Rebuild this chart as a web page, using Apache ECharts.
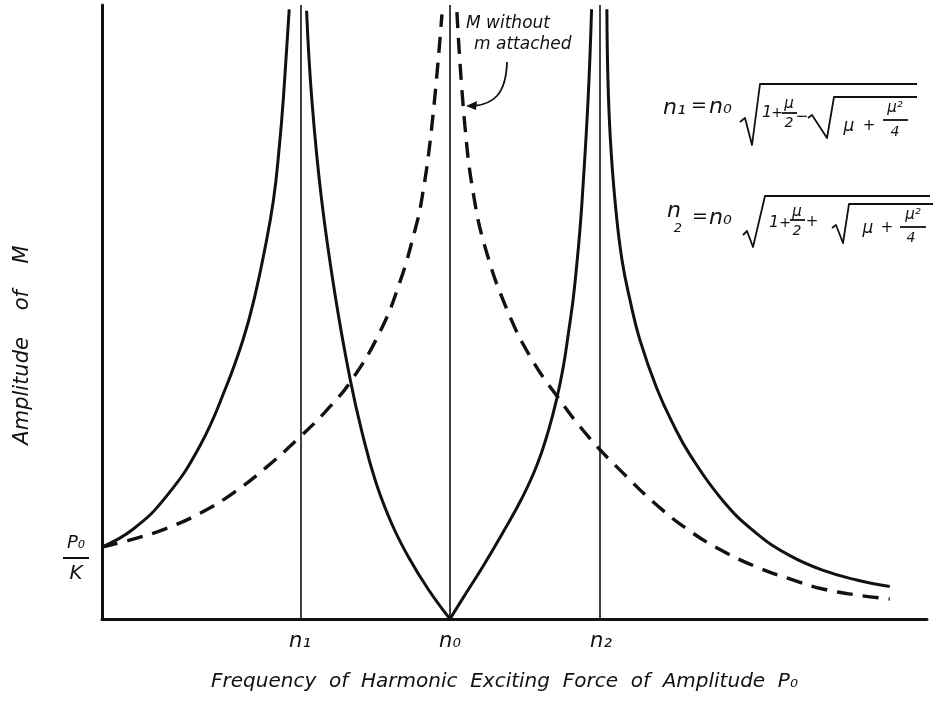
<!DOCTYPE html>
<html>
<head>
<meta charset="utf-8">
<script src="https://cdn.jsdelivr.net/npm/echarts@6/dist/echarts.min.js"></script>
<style>
  html, body { margin: 0; padding: 0; background: #fff; }
  #chart { width: 934px; height: 704px; }
</style>
</head>
<body>
<div id="chart"></div>
<script>
// Frequency is measured in units of n0, amplitude in units of the static deflection P0/K.
const freqTicks = [0.569, 1.0, 1.434];
const freqTickLabels = ['n\u2081', 'n\u2080', 'n\u2082'];
const ampTicks = [1];

// Amplitude of M with the absorber m attached
const solidBelowN1 = [[0, 1], [0.090, 1.25], [0.186, 1.71], [0.282, 2.41], [0.358, 3.24],
  [0.406, 3.89], [0.437, 4.44], [0.468, 5.14], [0.493, 5.83], [0.509, 6.53], [0.521, 7.22],
  [0.538, 8.47]];
const solidN1toN0 = [[0.588, 8.45], [0.603, 7.22], [0.631, 5.83], [0.672, 4.44], [0.714, 3.31],
  [0.747, 2.60], [0.787, 1.90], [0.833, 1.32], [0.882, 0.85], [0.937, 0.417], [1.0, 0]];
const solidN0toN2 = [[1.0, 0], [1.036, 0.28], [1.096, 0.74], [1.153, 1.21], [1.206, 1.67],
  [1.249, 2.125], [1.282, 2.60], [1.307, 3.06], [1.326, 3.51], [1.341, 3.99], [1.354, 4.44],
  [1.364, 4.90], [1.373, 5.375], [1.380, 5.83], [1.397, 7.22], [1.407, 8.47]];
const solidAboveN2 = [[1.451, 8.47], [1.454, 7.50], [1.461, 6.67], [1.474, 5.83], [1.494, 5.0],
  [1.520, 4.375], [1.546, 3.875], [1.594, 3.21], [1.641, 2.71], [1.690, 2.28], [1.785, 1.64],
  [1.881, 1.19], [1.977, 0.88], [2.073, 0.675], [2.169, 0.542], [2.264, 0.451]];

// Amplitude of M alone, without m attached
const dashedBelowN0 = [[0, 1], [0.090, 1.11], [0.186, 1.26], [0.282, 1.47], [0.377, 1.75],
  [0.473, 2.11], [0.569, 2.53], [0.641, 2.875], [0.716, 3.31], [0.799, 3.99], [0.856, 4.68],
  [0.898, 5.375], [0.919, 5.83], [0.948, 6.85], [0.977, 8.40]];
const dashedAboveN0 = [[1.020, 8.43], [1.043, 6.85], [1.070, 5.83], [1.105, 5.10], [1.163, 4.31],
  [1.230, 3.65], [1.307, 3.10], [1.402, 2.51], [1.497, 2.03], [1.595, 1.58], [1.690, 1.22],
  [1.784, 0.944], [1.882, 0.722], [1.977, 0.556], [2.072, 0.417], [2.170, 0.333], [2.264, 0.278]];

const INK = '#111';
const HAND = 'DejaVu Sans';

function curve(data, dashed) {
  return {
    type: 'line',
    data: data,
    smooth: 0.45,
    symbol: 'none',
    silent: true,
    lineStyle: dashed
      ? { color: INK, width: 3.4, type: [16, 10], cap: 'butt' }
      : { color: INK, width: 3 }
  };
}

function txt(text, x, y, size, align) {
  return {
    type: 'text', x: x, y: y, silent: true,
    style: {
      text: text, fill: INK,
      font: 'italic ' + size + 'px "' + HAND + '"',
      textAlign: align || 'left', align: align || 'left',
      textVerticalAlign: 'middle', verticalAlign: 'middle'
    }
  };
}
function poly(points) {
  return { type: 'polyline', silent: true, shape: { points: points },
           style: { stroke: INK, lineWidth: 1.8, fill: null, lineJoin: 'round' } };
}
function bar(x1, x2, y) {
  return { type: 'line', silent: true, shape: { x1: x1, y1: y, x2: x2, y2: y },
           style: { stroke: INK, lineWidth: 1.8 } };
}

const formulaGraphics = [
  // n1 = n0 sqrt(1 + mu/2 - sqrt(mu + mu^2/4))
  txt('n\u2081', 663, 108, 22),
  txt('=', 699, 106, 19, 'center'),
  txt('n\u2080', 709, 107, 22),
  poly([[740, 122], [745, 118], [752, 145], [760, 84], [917, 84]]),
  txt('1', 767, 113, 16, 'center'),
  txt('+', 777, 113, 14, 'center'),
  txt('\u03bc', 789, 104, 15, 'center'),
  bar(782, 797, 113),
  txt('2', 789, 123, 14, 'center'),
  txt('\u2212', 802, 117, 15, 'center'),
  poly([[808, 118], [812, 115], [827, 138], [834, 97], [917, 97]]),
  txt('\u03bc', 849, 127, 17, 'center'),
  txt('+', 869, 126, 15, 'center'),
  txt('\u03bc\u00b2', 895, 108, 15, 'center'),
  bar(883, 908, 120),
  txt('4', 895, 132, 14, 'center'),

  // n2 = n0 sqrt(1 + mu/2 + sqrt(mu + mu^2/4))
  txt('n', 667, 211, 22),
  txt('2', 678, 229, 13, 'center'),
  txt('=', 700, 217, 19, 'center'),
  txt('n\u2080', 709, 218, 22),
  poly([[743, 235], [747, 231], [753, 247], [765, 196], [930, 196]]),
  txt('1', 774, 223, 16, 'center'),
  txt('+', 785, 223, 14, 'center'),
  txt('\u03bc', 797, 212, 15, 'center'),
  bar(790, 805, 220),
  txt('2', 797, 231, 14, 'center'),
  txt('+', 812, 222, 15, 'center'),
  poly([[832, 228], [836, 225], [843, 243], [849, 204], [933, 204]]),
  txt('\u03bc', 868, 229, 17, 'center'),
  txt('+', 887, 228, 15, 'center'),
  txt('\u03bc\u00b2', 913, 215, 15, 'center'),
  bar(900, 926, 227),
  txt('4', 911, 238, 14, 'center'),

  // note pointing at the free-mass curve
  txt('M without', 466, 24, 17),
  txt('m attached', 474, 45, 17),
  { type: 'bezierCurve', silent: true,
    shape: { x1: 507, y1: 62, cpx1: 506, cpy1: 96, cpx2: 492, cpy2: 104, x2: 474, y2: 106 },
    style: { stroke: INK, lineWidth: 1.8, fill: null } },
  { type: 'polygon', silent: true,
    shape: { points: [[466, 106], [477, 101], [476, 110]] },
    style: { fill: INK } }
];

const chart = echarts.init(document.getElementById('chart'), null, { renderer: 'canvas' });
const firstSeries = curve(solidBelowN1, false);
firstSeries.markLine = {
  silent: true,
  symbol: 'none',
  label: { show: false },
  lineStyle: { color: INK, width: 1.6, type: 'solid' },
  data: freqTicks.map(v => ({ xAxis: v }))
};

chart.setOption({
  animation: false,
  backgroundColor: '#fff',
  grid: { left: 102, right: 7, top: 5, bottom: 85 },
  xAxis: {
    type: 'value', min: 0, max: 2.371,
    name: 'Frequency  of  Harmonic  Exciting  Force  of  Amplitude  P\u2080',
    nameLocation: 'middle', nameGap: 53,
    nameTextStyle: { fontFamily: HAND, fontStyle: 'italic', fontSize: 20, color: INK,
                     padding: [0, 20, 0, 0] },
    axisLine: { show: true, lineStyle: { color: INK, width: 3 } },
    axisTick: { show: false },
    splitLine: { show: false },
    axisLabel: {
      customValues: freqTicks,
      margin: 12,
      fontFamily: HAND, fontStyle: 'italic', fontSize: 21, color: INK,
      formatter: v => freqTickLabels[freqTicks.indexOf(v)] || ''
    }
  },
  yAxis: {
    type: 'value', min: 0, max: 8.53,
    name: 'Amplitude    of    M',
    nameLocation: 'middle', nameGap: 69,
    nameTextStyle: { fontFamily: HAND, fontStyle: 'italic', fontSize: 21, color: INK,
                     padding: [0, 66, 0, 0] },
    axisLine: { show: true, lineStyle: { color: INK, width: 3 } },
    axisTick: { show: false },
    splitLine: { show: false },
    axisLabel: {
      customValues: ampTicks,
      margin: 26,
      align: 'center',
      padding: [24, 0, 0, 0],
      formatter: () => '{n|P\u2080}\n{b| }\n{d|K}',
      rich: {
        n: { fontFamily: HAND, fontStyle: 'italic', fontSize: 18, color: INK, lineHeight: 20, align: 'center' },
        b: { width: 26, height: 2, lineHeight: 9, backgroundColor: INK, fontSize: 2, align: 'center' },
        d: { fontFamily: HAND, fontStyle: 'italic', fontSize: 20, color: INK, lineHeight: 22, align: 'center' }
      }
    }
  },
  series: [
    firstSeries,
    curve(solidN1toN0, false),
    curve(solidN0toN2, false),
    curve(solidAboveN2, false),
    curve(dashedBelowN0, true),
    curve(dashedAboveN0, true)
  ],
  graphic: formulaGraphics
});
</script>
</body>
</html>
